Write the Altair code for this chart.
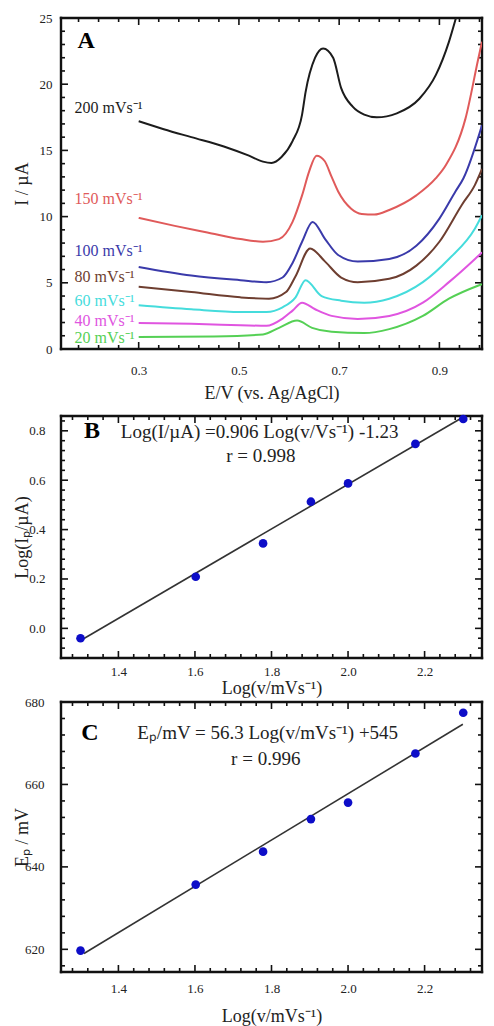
import altair as alt
import pandas as pd
import numpy as np

FONT = "Liberation Serif"

# ---------------- Panel A: voltammograms ----------------
rates = ["200 mVs⁻¹", "150 mVs⁻¹", "100 mVs⁻¹", "80 mVs⁻¹", "60 mVs⁻¹", "40 mVs⁻¹", "20 mVs⁻¹"]
colors = ["#1c1c1c", "#e05a5a", "#3a3aaa", "#6e3e30", "#45dcdc", "#e055e0", "#55d055"]

E_200 = [0.30, 0.35, 0.405, 0.47, 0.52, 0.548, 0.565, 0.585, 0.607, 0.626, 0.633, 0.652, 0.668, 0.688, 0.704, 0.727, 0.75, 0.775, 0.815, 0.86, 0.893, 0.919, 0.933]
I_200 = [17.2, 16.6, 16.0, 15.3, 14.6, 14.15, 14.05, 14.5, 15.7, 17.7, 19.4, 22.0, 22.7, 22.0, 19.7, 18.3, 17.7, 17.5, 17.8, 18.9, 20.7, 23.2, 25.0]

E_150 = [0.30, 0.372, 0.437, 0.503, 0.548, 0.58, 0.607, 0.626, 0.64, 0.655, 0.671, 0.685, 0.698, 0.724, 0.745, 0.77, 0.80, 0.854, 0.893, 0.913, 0.952, 0.978, 0.985]
I_150 = [9.9, 9.3, 8.8, 8.3, 8.1, 8.3, 9.6, 11.6, 13.4, 14.6, 14.2, 13.0, 11.9, 10.6, 10.2, 10.15, 10.5, 11.6, 12.9, 13.9, 17.4, 22.0, 23.2]

E_100 = [0.30, 0.405, 0.503, 0.555, 0.587, 0.607, 0.626, 0.647, 0.672, 0.698, 0.737, 0.80, 0.854, 0.90, 0.932, 0.948, 0.985]
I_100 = [6.2, 5.55, 5.2, 5.05, 5.4, 6.5, 8.1, 9.6, 8.3, 7.1, 6.6, 6.8, 7.8, 9.85, 11.9, 12.9, 16.9]

E_80 = [0.30, 0.405, 0.503, 0.56, 0.594, 0.613, 0.642, 0.672, 0.704, 0.737, 0.80, 0.854, 0.90, 0.945, 0.971, 0.985]
I_80 = [4.7, 4.3, 3.9, 3.8, 4.3, 5.5, 7.6, 6.6, 5.4, 5.05, 5.3, 6.3, 8.1, 10.9, 12.4, 13.6]

E_60 = [0.30, 0.405, 0.503, 0.555, 0.587, 0.613, 0.633, 0.665, 0.704, 0.75, 0.80, 0.867, 0.919, 0.971, 0.985]
I_60 = [3.3, 3.0, 2.8, 2.8, 3.15, 3.9, 5.2, 4.0, 3.65, 3.5, 3.8, 5.05, 6.8, 9.1, 10.1]

E_40 = [0.30, 0.405, 0.503, 0.555, 0.587, 0.607, 0.626, 0.652, 0.685, 0.737, 0.80, 0.867, 0.919, 0.971, 0.985]
I_40 = [1.97, 1.9, 1.8, 1.75, 2.3, 2.9, 3.5, 3.0, 2.5, 2.27, 2.5, 3.5, 5.05, 6.8, 7.3]

E_20 = [0.30, 0.45, 0.548, 0.58, 0.616, 0.646, 0.685, 0.75, 0.80, 0.867, 0.919, 0.978, 0.985]
I_20 = [0.9, 0.95, 1.1, 1.6, 2.15, 1.6, 1.3, 1.2, 1.5, 2.5, 3.8, 4.8, 4.9]

label_I = [18.2, 11.3, 7.4, 5.45, 3.65, 2.15, 0.8]
label_E = 0.172

# ---------------- Panel B / C: regressions ----------------
log_v = [1.301, 1.602, 1.778, 1.903, 2.0, 2.176, 2.301]
log_Ip = [-0.04, 0.209, 0.344, 0.513, 0.587, 0.747, 0.848]
Ep = [619.7, 635.7, 643.7, 651.6, 655.6, 667.5, 677.4]

fitB_x = [1.30, 2.30]
fitB_y = [-0.05, 0.855]
fitC_x = [1.31, 2.30]
fitC_y = [619.0, 674.6]

eqB = "Log(I/µA) =0.906 Log(v/Vs⁻¹) -1.23"
rB = "r = 0.998"
eqC = "Eₚ/mV = 56.3 Log(v/mVs⁻¹) +545"
rC = "r = 0.996"

W = 421
HA, HB, HC = 331, 242, 270


def frame_and_ticks(xmaj, xmin, ymaj, ymin, xdom, ydom, xax, yax, w, h, L=7, l=4):
    """Box frame plus inward ticks on all four sides, drawn as thin filled
    rectangles positioned through the panel's own scales."""
    xs = alt.Scale(domain=xdom, nice=False, zero=False)
    ys = alt.Scale(domain=ydom, nice=False, zero=False)
    ux = (xdom[1] - xdom[0]) / w   # data units per pixel
    uy = (ydom[1] - ydom[0]) / h
    tw, fw = 0.8, 1.2   # half thickness of ticks / frame, pixels
    rows = []
    for vals, length in [(xmaj, L), (xmin, l)]:
        for v in vals:
            for a, b in [(ydom[0], ydom[0] + length * uy), (ydom[1] - length * uy, ydom[1])]:
                rows.append({"x0": v - tw * ux, "x1": v + tw * ux, "y0": a, "y1": b})
    for vals, length in [(ymaj, L), (ymin, l)]:
        for v in vals:
            for a, b in [(xdom[0], xdom[0] + length * ux), (xdom[1] - length * ux, xdom[1])]:
                rows.append({"x0": a, "x1": b, "y0": v - tw * uy, "y1": v + tw * uy})
    rows.append({"x0": xdom[0] - fw * ux, "x1": xdom[1] + fw * ux, "y0": ydom[0] - fw * uy, "y1": ydom[0] + fw * uy})
    rows.append({"x0": xdom[0] - fw * ux, "x1": xdom[1] + fw * ux, "y0": ydom[1] - fw * uy, "y1": ydom[1] + fw * uy})
    rows.append({"x0": xdom[0] - fw * ux, "x1": xdom[0] + fw * ux, "y0": ydom[0] - fw * uy, "y1": ydom[1] + fw * uy})
    rows.append({"x0": xdom[1] - fw * ux, "x1": xdom[1] + fw * ux, "y0": ydom[0] - fw * uy, "y1": ydom[1] + fw * uy})
    box = alt.Chart(pd.DataFrame(rows)).mark_rect(color="#111111", opacity=1).encode(
        x=alt.X("x0:Q", scale=xs, axis=xax), x2="x1:Q",
        y=alt.Y("y0:Q", scale=ys, axis=yax), y2="y1:Q")
    return [box]


def minors(lo, hi, step, majors):
    out = []
    for v in np.arange(lo, hi + 1e-9, step):
        v = round(float(v), 4)
        if all(abs(v - m) > 1e-6 for m in majors):
            out.append(v)
    return out


# ---------- Panel A ----------
rows = []
for name, Es, Is in zip(rates, [E_200, E_150, E_100, E_80, E_60, E_40, E_20],
                        [I_200, I_150, I_100, I_80, I_60, I_40, I_20]):
    for e, i in zip(Es, Is):
        rows.append({"E": e, "I": i, "rate": name})
dfA = pd.DataFrame(rows)

xdA, ydA = [0.145, 0.985], [0, 25]
xsA = alt.Scale(domain=xdA, nice=False, zero=False)
ysA = alt.Scale(domain=ydA, nice=False, zero=False)
xaxA = alt.Axis(title="E/V (vs. Ag/AgCl)", values=[0.3, 0.5, 0.7, 0.9], format=".1f",
                labelPadding=15, titleY=35, titleX=W / 2)
yaxA = alt.Axis(title="I / µA", values=[0, 5, 10, 15, 20, 25], labelPadding=9,
                titleX=-29.5, titleY=HA / 2)
colA = alt.Color("rate:N", scale=alt.Scale(domain=rates, range=colors), legend=None)

linesA = alt.Chart(dfA).mark_line(interpolate="monotone", strokeWidth=2, clip=True).encode(
    x=alt.X("E:Q", scale=xsA, axis=xaxA),
    y=alt.Y("I:Q", scale=ysA, axis=yaxA),
    color=colA,
)
labA = alt.Chart(pd.DataFrame({"rate": rates, "I": label_I, "E": [label_E] * len(rates)})).mark_text(
    align="left", baseline="middle", font=FONT, fontSize=16).encode(
    x=alt.X("E:Q", scale=xsA, axis=xaxA),
    y=alt.Y("I:Q", scale=ysA, axis=yaxA),
    text="rate:N",
    color=colA,
)
letterA = alt.Chart(pd.DataFrame({"t": ["A"], "E": [0.178], "I": [23.3]})).mark_text(
    align="left", baseline="middle", font=FONT, fontSize=24, fontWeight="bold", color="black").encode(
    x=alt.X("E:Q", scale=xsA, axis=xaxA), y=alt.Y("I:Q", scale=ysA, axis=yaxA), text="t:N")

boxA = frame_and_ticks([0.3, 0.5, 0.7, 0.9], minors(0.18, 0.98, 0.04, [0.3, 0.5, 0.7, 0.9]),
                       [0, 5, 10, 15, 20, 25], minors(1, 24, 1, [0, 5, 10, 15, 20, 25]),
                       xdA, ydA, xaxA, yaxA, W, HA)
panelA = alt.layer(*boxA, linesA, labA, letterA).properties(width=W, height=HA)

# ---------- Panel B ----------
xdB, ydB = [1.25, 2.35], [-0.12, 0.86]
xsB = alt.Scale(domain=xdB, nice=False, zero=False)
ysB = alt.Scale(domain=ydB, nice=False, zero=False)
xaxB = alt.Axis(title="Log(v/mVs⁻¹)", values=[1.4, 1.6, 1.8, 2.0, 2.2], format=".1f",
                labelPadding=7, titleY=21, titleX=W / 2)
yaxB = alt.Axis(title="Log(Iₚ/µA)", values=[0.0, 0.2, 0.4, 0.6, 0.8], format=".1f",
                labelPadding=16, titleX=-29.5, titleY=HB / 2)
dfB = pd.DataFrame({"x": log_v, "y": log_Ip})
ptsB = alt.Chart(dfB).mark_circle(size=75, color="#0d0dc8", opacity=1).encode(
    x=alt.X("x:Q", scale=xsB, axis=xaxB), y=alt.Y("y:Q", scale=ysB, axis=yaxB))
fitB = alt.Chart(pd.DataFrame({"x": fitB_x, "y": fitB_y})).mark_line(color="#333333", strokeWidth=1.6).encode(
    x=alt.X("x:Q", scale=xsB, axis=xaxB), y=alt.Y("y:Q", scale=ysB, axis=yaxB))
txtB = alt.Chart(pd.DataFrame({"t": [eqB, rB], "x": [1.769, 1.772], "y": [0.795, 0.698]})).mark_text(
    align="center", baseline="middle", font=FONT, fontSize=19, color="#222222").encode(
    x=alt.X("x:Q", scale=xsB, axis=xaxB), y=alt.Y("y:Q", scale=ysB, axis=yaxB), text="t:N")
letterB = alt.Chart(pd.DataFrame({"t": ["B"], "x": [1.31], "y": [0.80]})).mark_text(
    align="left", baseline="middle", font=FONT, fontSize=24, fontWeight="bold", color="black").encode(
    x=alt.X("x:Q", scale=xsB, axis=xaxB), y=alt.Y("y:Q", scale=ysB, axis=yaxB), text="t:N")
majBx = [1.4, 1.6, 1.8, 2.0, 2.2]
boxB = frame_and_ticks(majBx, minors(1.28, 2.32, 0.04, majBx),
                       [0.0, 0.2, 0.4, 0.6, 0.8], minors(-0.08, 0.84, 0.04, [0.0, 0.2, 0.4, 0.6, 0.8]),
                       xdB, ydB, xaxB, yaxB, W, HB)
panelB = alt.layer(*boxB, fitB, ptsB, txtB, letterB).properties(width=W, height=HB)

# ---------- Panel C ----------
xdC, ydC = [1.25, 2.35], [614.5, 680]
xsC = alt.Scale(domain=xdC, nice=False, zero=False)
ysC = alt.Scale(domain=ydC, nice=False, zero=False)
xaxC = alt.Axis(title="Log(v/mVs⁻¹)", values=majBx, format=".1f",
                labelPadding=10, titleY=35, titleX=W / 2)
yaxC = alt.Axis(title="Eₚ / mV", values=[620, 640, 660, 680], labelPadding=17,
                titleX=-29.5, titleY=HC / 2)
dfC = pd.DataFrame({"x": log_v, "y": Ep})
ptsC = alt.Chart(dfC).mark_circle(size=75, color="#0d0dc8", opacity=1).encode(
    x=alt.X("x:Q", scale=xsC, axis=xaxC), y=alt.Y("y:Q", scale=ysC, axis=yaxC))
fitC = alt.Chart(pd.DataFrame({"x": fitC_x, "y": fitC_y})).mark_line(color="#333333", strokeWidth=1.6).encode(
    x=alt.X("x:Q", scale=xsC, axis=xaxC), y=alt.Y("y:Q", scale=ysC, axis=yaxC))
txtC = alt.Chart(pd.DataFrame({"t": [eqC, rC], "x": [1.79, 1.785], "y": [672.4, 666.1]})).mark_text(
    align="center", baseline="middle", font=FONT, fontSize=19, color="#222222").encode(
    x=alt.X("x:Q", scale=xsC, axis=xaxC), y=alt.Y("y:Q", scale=ysC, axis=yaxC), text="t:N")
letterC = alt.Chart(pd.DataFrame({"t": ["C"], "x": [1.303], "y": [672.4]})).mark_text(
    align="left", baseline="middle", font=FONT, fontSize=24, fontWeight="bold", color="black").encode(
    x=alt.X("x:Q", scale=xsC, axis=xaxC), y=alt.Y("y:Q", scale=ysC, axis=yaxC), text="t:N")
boxC = frame_and_ticks(majBx, minors(1.28, 2.32, 0.04, majBx),
                       [620, 640, 660, 680], minors(616, 676, 4, [620, 640, 660, 680]),
                       xdC, ydC, xaxC, yaxC, W, HC)
panelC = alt.layer(*boxC, fitC, ptsC, txtC, letterC).properties(width=W, height=HC)

chart = alt.vconcat(
    alt.vconcat(panelA, panelB, spacing=10),
    panelC, spacing=-3,
).properties(
    padding={"left": 4, "top": 3, "right": 0, "bottom": 0},
    background="white",
).configure_view(
    stroke="#111111", strokeWidth=2
).configure_axis(
    labelFont=FONT, titleFont=FONT, labelFontSize=13, titleFontSize=18,
    titleFontWeight="normal", labelColor="#222222", titleColor="#222222",
    domain=False, ticks=False, grid=False,
)

chart.save("out.html", embed_options={"renderer": "svg", "actions": False})
